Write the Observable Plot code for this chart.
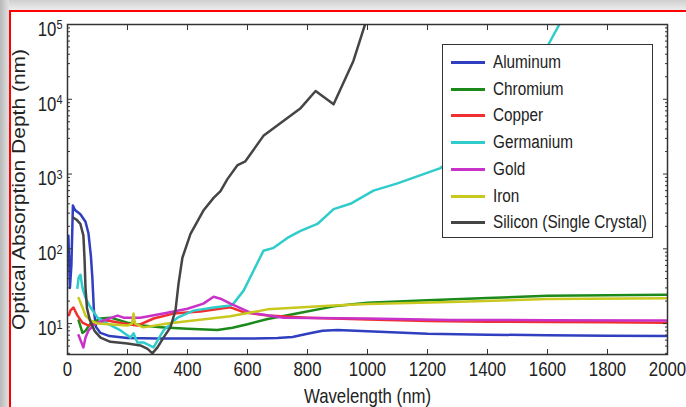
<!DOCTYPE html>
<html><head><meta charset="utf-8">
<script src="https://cdn.jsdelivr.net/npm/d3@7"></script>
<script src="https://cdn.jsdelivr.net/npm/@observablehq/plot@0.6"></script>
<style>
html,body{margin:0;padding:0;width:686px;height:407px;overflow:hidden;background:#fff;}
#wrap{position:relative;width:686px;height:407px;overflow:hidden;background:#fff;}
#topbar{position:absolute;left:0;top:0;width:686px;height:10px;background:linear-gradient(#cfcfcf,#ededed);}
#leftbar{position:absolute;left:0;top:0;width:9px;height:407px;background:linear-gradient(90deg,#b8b8b8,#e2e2e2);}
#redframe{position:absolute;left:9px;top:10px;width:700px;height:420px;border-left:2px solid #f00;border-top:2px solid #f00;}
#chart{position:absolute;left:0;top:0;}
#legend{position:absolute;left:442px;top:44px;width:209px;height:192px;border:1.5px solid #333;background:#fff;
  font-family:"Liberation Sans",Arial,sans-serif;font-size:18px;color:#222;}
.row{position:absolute;left:0;height:20px;width:200px;}
.row .sw{position:absolute;left:8px;top:9px;width:34px;height:3px;}
.row .lb{position:absolute;left:50px;top:0;white-space:nowrap;line-height:20px;transform:scaleX(0.85);transform-origin:0 50%;}
</style>
</head><body>
<div id="wrap">
  <div id="topbar"></div><div id="leftbar"></div><div id="redframe"></div>
  <div id="chart"></div>
  <div id="legend"></div>
</div>
<script>
const materials = ["Aluminum","Chromium","Copper","Germanium","Gold","Iron","Silicon (Single Crystal)"];
const colors = ["#2f3fbf","#1b8a1b","#f03030","#30cccc","#c832c8","#c8c81e","#454545"];

// [wavelength nm, absorption depth nm]
const aluminum = [[3,150],[8,30],[13,60],[18,380],[25,330],[43,290],[60,230],[70,160],[78,80],[83,40],[88,15],[95,9],[110,7.5],[140,6.8],[200,6.4],[300,6.3],[400,6.3],[500,6.3],[600,6.3],[700,6.4],[750,6.6],[800,7.3],[850,8],[900,8.2],[1000,7.9],[1200,7.3],[1400,7.1],[1600,7],[1800,6.9],[2000,6.8]];
const chromium = [[37,11],[50,7.5],[60,8],[77,10],[110,11.7],[143,12],[200,10.3],[253,9.4],[310,8.9],[400,8.5],[500,8.2],[550,8.8],[600,9.8],[667,11.5],[777,14],[887,17],[1000,19],[1200,20.5],[1400,22],[1600,23.5],[2000,24.4]];
const copper = [[5,13],[10,15],[20,16.4],[33,12.8],[50,10.3],[70,9.4],[100,10.3],[133,11],[187,10],[233,9.4],[287,11.7],[353,13.6],[443,14.5],[543,16.5],[587,14.2],[667,12.8],[800,12],[1000,11.3],[1200,10.8],[1400,10.6],[1600,10.5],[1800,10.4],[2000,10.3]];
const germanium = [[33,30],[37,41],[43,45],[50,30],[60,22],[77,16.4],[100,12],[133,10],[177,8.1],[210,6.5],[220,7.4],[233,5.6],[253,5.6],[287,4.8],[300,5.9],[320,8.1],[367,12],[420,14.9],[487,16.4],[543,17.4],[553,18.5],[587,27.6],[620,51],[653,94],[687,103],[733,140],[777,174],[833,215],[887,340],[943,400],[1020,600],[1100,750],[1243,1200],[1350,2500],[1450,6000],[1550,20000],[1603,54000],[1645,110000]];
const gold = [[37,7],[53,4.8],[60,6.5],[70,8.1],[93,10],[120,11],[167,12.8],[187,12],[243,12],[333,14],[400,15.8],[453,18.5],[487,22.9],[510,21.5],[543,18.5],[610,14],[720,12],[1000,11.7],[1277,11.2],[1600,11.1],[2000,11]];
const iron = [[37,22],[50,16.4],[60,12.8],[77,11],[100,10],[150,9.7],[200,9.4],[215,10],[220,13.6],[225,10],[253,8.9],[333,10],[420,11],[543,12.5],[667,15.5],[887,17.4],[1000,18.3],[1277,19.5],[1600,21.3],[2000,21.8]];
const silicon = [[20,260],[30,245],[43,215],[53,150],[57,70],[60,30],[65,16],[75,11],[90,8],[110,6.5],[143,5.7],[200,5.4],[243,5.1],[267,4.6],[283,4.0],[300,4.8],[320,6.5],[343,8.9],[360,15],[370,34],[383,76],[410,158],[453,325],[487,480],[510,590],[533,855],[567,1320],[593,1480],[653,3240],[733,5600],[777,7600],[827,12900],[887,8560],[953,32600],[995,110000]];

const series = [aluminum, chromium, copper, germanium, gold, iron, silicon];
const xTicks = [0,200,400,600,800,1000,1200,1400,1600,1800,2000];
const yTicks = [10,100,1000,10000,100000];
const yMinor = [4,5,6,7,8,9,20,30,40,50,60,70,80,90,200,300,400,500,600,700,800,900,2000,3000,4000,5000,6000,7000,8000,9000,20000,30000,40000,50000,60000,70000,80000,90000];
const supers = {10:"1",100:"2",1000:"3",10000:"4",100000:"5"};

const rows = [];
series.forEach((s, i) => s.forEach(([nm, depth]) => rows.push({material: materials[i], nm, depth})));

const font = '"Liberation Sans",Arial,sans-serif';
const ink = "#333";

const chart = Plot.plot({
  width: 686, height: 407,
  marginLeft: 67, marginRight: 19, marginTop: 24, marginBottom: 53,
  style: {background: "transparent", color: "#222", fontFamily: font},
  x: {domain: [0, 2000]},
  y: {type: "log", domain: [3.86, 100000]},
  color: {domain: materials, range: colors},
  marks: [
    Plot.line(rows, {x: "nm", y: "depth", z: "material", stroke: "material", strokeWidth: 2.5, clip: true}),
    Plot.frame({stroke: ink, strokeWidth: 1.5}),
    Plot.axisX({ticks: xTicks, tickSize: -5, fill: "none", stroke: ink, label: null}),
    Plot.axisX({anchor: "top", ticks: xTicks, tickSize: -5, fill: "none", stroke: ink, label: null}),
    Plot.axisX({ticks: xTicks, tickSize: 0, tickPadding: 7, fontSize: 20, fill: "#222", tickFormat: d => String(d),
      label: "Wavelength (nm)", labelAnchor: "center", labelArrow: "none", labelOffset: 48}),
    Plot.axisY({ticks: yTicks, tickSize: -5, fill: "none", stroke: ink, label: null}),
    Plot.axisY({anchor: "right", ticks: yTicks, tickSize: -5, fill: "none", stroke: ink, label: null}),
    Plot.axisY({ticks: yMinor, tickSize: -3, fill: "none", stroke: ink, label: null}),
    Plot.axisY({anchor: "right", ticks: yMinor, tickSize: -3, fill: "none", stroke: ink, label: null}),
    Plot.axisY({ticks: yTicks, tickSize: 0, tickPadding: 5, fontSize: 20, fill: "#222", dy: 5,
      tickFormat: d => "10" + supers[d], label: null}),
    Plot.axisY({ticks: yTicks, tickSize: 0, fill: "#222", tickFormat: () => "", fontSize: 21, dy: -12,
      label: "Optical Absorption Depth (nm)", labelAnchor: "center", labelArrow: "none", labelOffset: 55})
  ]
});
document.getElementById("chart").appendChild(chart);

// superscript exponents, and the narrow look of the original lettering
chart.querySelectorAll("text").forEach(t => {
  const m = /^10([1-5])$/.exec(t.textContent);
  if (m) {
    t.textContent = "10";
    const ts = document.createElementNS("http://www.w3.org/2000/svg", "tspan");
    ts.setAttribute("dy", "-0.5em");
    ts.setAttribute("font-size", "13");
    ts.textContent = m[1];
    t.appendChild(ts);
  }
  const tr = t.getAttribute("transform") || "";
  if (/rotate/.test(tr)) t.setAttribute("transform", tr + " scale(1,0.85)");
  else if (t.textContent) t.setAttribute("transform", tr + " scale(0.84,1)");
});

const legend = document.getElementById("legend");
materials.forEach((m, i) => {
  const r = document.createElement("div");
  r.className = "row";
  r.style.top = (7 + i * 26.7) + "px";
  r.innerHTML = `<div class="sw" style="background:${colors[i]}"></div><div class="lb">${m}</div>`;
  legend.appendChild(r);
});
</script>
</body></html>
